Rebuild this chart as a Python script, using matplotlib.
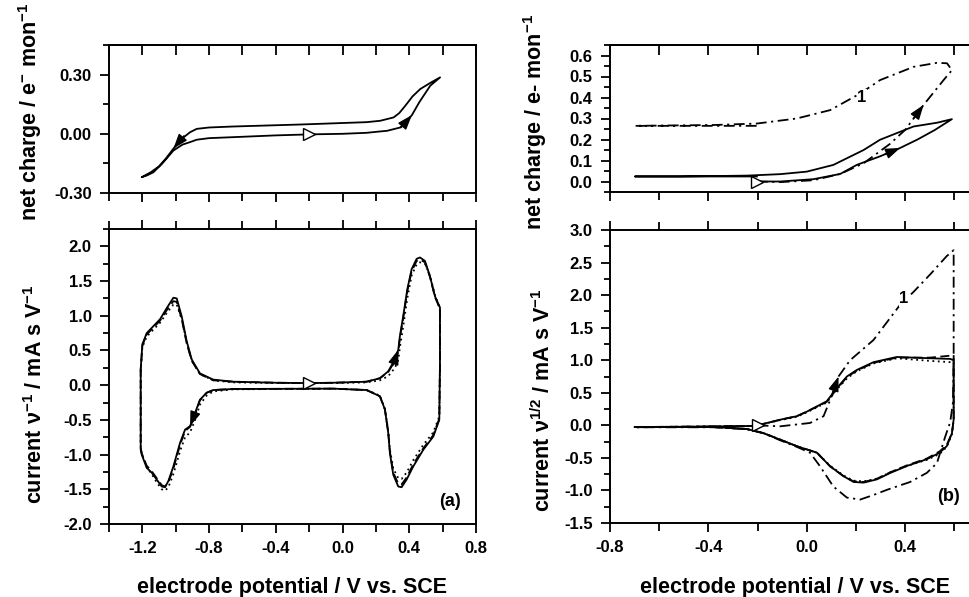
import numpy as np
import matplotlib
matplotlib.use("Agg")
import matplotlib.pyplot as plt
from matplotlib.ticker import MultipleLocator, FormatStrFormatter

plt.rcParams['font.family'] = ['Liberation Sans', 'DejaVu Sans']
plt.rcParams['font.weight'] = 'bold'
plt.rcParams['axes.unicode_minus'] = False
plt.rcParams['mathtext.fontset'] = 'custom'
plt.rcParams['mathtext.rm'] = 'Liberation Sans:bold'
plt.rcParams['mathtext.bf'] = 'Liberation Sans:bold'
plt.rcParams['mathtext.sf'] = 'Liberation Sans'
plt.rcParams['mathtext.default'] = 'rm'

# ---- (a) net charge, one loop starting at -0.2 V
Eqa = [-0.20, 0.00, 0.144, 0.226, 0.266, 0.346, 0.38, 0.416, 0.46, 0.526, 0.585,
       0.53, 0.466, 0.42, 0.376, 0.34, 0.306, 0.226, 0.144, -0.255, -0.655, -0.80,
       -0.874, -0.914, -0.944, -0.974, -1.014, -1.054, -1.10, -1.15, -1.204,
       -1.17, -1.134, -1.08, -1.014, -0.96, -0.914, -0.874, -0.80, -0.655, -0.40, -0.20]
Qa = [-0.003, 0.0, 0.005, 0.012, 0.015, 0.032, 0.06, 0.095, 0.16, 0.244, 0.286,
      0.26, 0.227, 0.19, 0.142, 0.105, 0.083, 0.066, 0.059, 0.047, 0.037, 0.032,
      0.025, 0.008, -0.012, -0.034, -0.075, -0.12, -0.165, -0.195, -0.22,
      -0.21, -0.195, -0.15, -0.085, -0.055, -0.042, -0.03, -0.022, -0.017, -0.008, -0.003]

# ---- (a) current, three cycles
Ea = [-0.20, -0.055, 0.144, 0.224, 0.274, 0.314, 0.334, 0.344, 0.364, 0.388, 0.414,
      0.444, 0.464, 0.494, 0.524, 0.554, 0.584, 0.584, 0.580, 0.544, 0.484, 0.424,
      0.384, 0.354, 0.334, 0.304, 0.284, 0.274, 0.254, 0.224, 0.144, -0.055, -0.655,
      -0.775, -0.815, -0.855, -0.884, -0.914, -0.944, -0.974, -1.014, -1.044, -1.064,
      -1.084, -1.114, -1.144, -1.174, -1.204, -1.210, -1.210, -1.200, -1.174, -1.134,
      -1.094, -1.054, -1.014, -0.994, -0.964, -0.934, -0.904, -0.855, -0.775, -0.655,
      -0.40, -0.20]
Ia_solid = [0.03, 0.035, 0.05, 0.10, 0.20, 0.37, 0.51, 0.71, 1.00, 1.38, 1.67, 1.82,
            1.84, 1.79, 1.57, 1.28, 1.12, 0.32, -0.50, -0.74, -0.93, -1.17, -1.36,
            -1.47, -1.46, -1.29, -0.98, -0.69, -0.35, -0.16, -0.07, -0.05, -0.055,
            -0.07, -0.11, -0.21, -0.40, -0.59, -0.64, -0.83, -1.17, -1.38, -1.47,
            -1.46, -1.36, -1.26, -1.19, -1.00, -0.93, 0.23, 0.59, 0.75, 0.85, 0.95,
            1.11, 1.26, 1.25, 0.99, 0.63, 0.37, 0.17, 0.08, 0.05, 0.035, 0.03]
Ia_dash = [0.03, 0.035, 0.05, 0.10, 0.19, 0.35, 0.48, 0.68, 0.97, 1.35, 1.64, 1.79,
           1.81, 1.77, 1.56, 1.27, 1.10, 0.30, -0.48, -0.72, -0.91, -1.14, -1.33,
           -1.43, -1.42, -1.26, -0.96, -0.68, -0.35, -0.16, -0.07, -0.05, -0.055,
           -0.07, -0.11, -0.22, -0.42, -0.60, -0.66, -0.86, -1.20, -1.40, -1.46,
           -1.44, -1.34, -1.24, -1.16, -0.98, -0.90, 0.22, 0.57, 0.73, 0.83, 0.93,
           1.08, 1.21, 1.20, 0.95, 0.60, 0.35, 0.16, 0.07, 0.05, 0.035, 0.03]
Ia_dot = [0.03, 0.03, 0.04, 0.07, 0.13, 0.25, 0.36, 0.55, 0.85, 1.25, 1.58, 1.74,
          1.77, 1.75, 1.58, 1.30, 1.10, 0.30, -0.45, -0.68, -0.86, -1.08, -1.26,
          -1.35, -1.34, -1.20, -0.93, -0.66, -0.34, -0.15, -0.07, -0.05, -0.06,
          -0.09, -0.15, -0.28, -0.50, -0.68, -0.75, -0.95, -1.28, -1.47, -1.52,
          -1.50, -1.40, -1.28, -1.18, -0.98, -0.90, 0.20, 0.55, 0.70, 0.80, 0.90,
          1.04, 1.16, 1.16, 0.95, 0.62, 0.36, 0.16, 0.07, 0.04, 0.03, 0.03]

# ---- (b) net charge
Eqb = [-0.203, -0.108, 0.027, 0.136, 0.203, 0.298, 0.38, 0.45, 0.52, 0.59, 0.53,
       0.434, 0.298, 0.231, 0.108, 0.0, -0.108, -0.244, -0.515, -0.698, -0.45, -0.203]
Qb = [0.0, 0.0, 0.011, 0.036, 0.079, 0.12, 0.16, 0.20, 0.245, 0.297, 0.28,
      0.262, 0.199, 0.15, 0.079, 0.047, 0.035, 0.028, 0.024, 0.024, 0.024, 0.024]
Eqb1 = [-0.203, -0.108, 0.027, 0.136, 0.231, 0.339, 0.40, 0.475, 0.556, 0.59, 0.57,
        0.529, 0.434, 0.298, 0.217, 0.095, -0.041, -0.203, -0.38, -0.698, -0.45, -0.203]
Qb1 = [0.0, -0.003, 0.006, 0.036, 0.087, 0.18, 0.246, 0.365, 0.483, 0.53, 0.563,
       0.565, 0.546, 0.483, 0.419, 0.34, 0.30, 0.276, 0.269, 0.265, 0.265, 0.265]

# ---- (b) current
Eb = [-0.20, -0.108, -0.041, 0.0, 0.081, 0.122, 0.163, 0.203, 0.271, 0.366, 0.502,
      0.583, 0.597, 0.597, 0.597, 0.59, 0.569, 0.54, 0.488, 0.41, 0.34, 0.285, 0.231,
      0.19, 0.149, 0.095, 0.041, 0.0, -0.041, -0.108, -0.176, -0.244, -0.38, -0.70,
      -0.45, -0.20]
Ib_solid = [0.0, 0.087, 0.14, 0.21, 0.37, 0.57, 0.75, 0.85, 0.97, 1.05, 1.03, 1.02,
            1.0, 0.6, 0.09, -0.12, -0.32, -0.42, -0.52, -0.62, -0.73, -0.83, -0.88,
            -0.87, -0.78, -0.63, -0.42, -0.37, -0.32, -0.22, -0.12, -0.056, -0.026,
            -0.026, -0.02, -0.01]
Ib_dash = [0.0, 0.085, 0.14, 0.21, 0.36, 0.56, 0.74, 0.84, 0.96, 1.04, 1.04, 1.07,
           1.08, 0.6, 0.09, -0.12, -0.30, -0.40, -0.51, -0.61, -0.72, -0.82, -0.87,
           -0.86, -0.78, -0.63, -0.42, -0.37, -0.32, -0.22, -0.12, -0.056, -0.026,
           -0.026, -0.02, -0.01]
Ib_dot = [0.0, 0.08, 0.13, 0.2, 0.35, 0.55, 0.72, 0.83, 0.95, 1.03, 0.99, 0.97,
          0.96, 0.6, 0.09, -0.14, -0.33, -0.44, -0.53, -0.62, -0.72, -0.82, -0.86,
          -0.85, -0.77, -0.62, -0.42, -0.37, -0.32, -0.22, -0.12, -0.056, -0.026,
          -0.026, -0.02, -0.01]
Eb1 = [-0.20, -0.108, 0.013, 0.068, 0.095, 0.129, 0.176, 0.271, 0.379, 0.434, 0.502,
       0.569, 0.597, 0.597, 0.594, 0.583, 0.563, 0.529, 0.488, 0.42, 0.326, 0.271,
       0.217, 0.163, 0.108, 0.054, 0.013, -0.041, -0.108, -0.176, -0.244, -0.38,
       -0.70, -0.45, -0.20]
Ib1 = [0.0, -0.015, 0.036, 0.14, 0.39, 0.75, 1.0, 1.31, 1.85, 2.05, 2.32, 2.6, 2.69,
       1.0, 0.35, 0.05, -0.17, -0.58, -0.73, -0.87, -0.99, -1.07, -1.14, -1.11,
       -0.94, -0.63, -0.42, -0.33, -0.23, -0.12, -0.06, -0.03, -0.03, -0.02, -0.01]

W, H = 969, 597
fig = plt.figure(figsize=(W / 100, H / 100), dpi=100)


def box(l, t, r, b):
    return [l / W, 1 - b / H, (r - l) / W, (b - t) / H]


def style(ax, xlim, ylim, ymaj, ymin, yfmt, top_panel):
    ax.set_xlim(xlim)
    ax.set_ylim(ylim)
    ax.xaxis.set_major_locator(MultipleLocator(0.4))
    ax.xaxis.set_minor_locator(MultipleLocator(0.2))
    ax.yaxis.set_major_locator(MultipleLocator(ymaj))
    ax.yaxis.set_minor_locator(MultipleLocator(ymin))
    ax.xaxis.set_major_formatter(FormatStrFormatter('%.1f'))
    ax.yaxis.set_major_formatter(FormatStrFormatter(yfmt))
    for s in ax.spines.values():
        s.set_linewidth(1.4)
    ax.tick_params(which='both', direction='out', width=1.3, labelsize=12, pad=6)
    ax.tick_params(which='major', length=6.5)
    ax.tick_params(axis='y', which='minor', length=4)
    ax.tick_params(axis='x', which='minor', length=6)
    if top_panel:
        ax.tick_params(axis='x', labelbottom=False)
        sec = ax.secondary_xaxis('top')
        sec.xaxis.set_major_locator(MultipleLocator(0.4))
        sec.xaxis.set_minor_locator(MultipleLocator(0.2))
        sec.tick_params(which='both', direction='in', width=1.3, length=7, labeltop=False)
        sec.spines['top'].set_linewidth(1.4)
    else:
        ax.tick_params(axis='x', which='both', top=True)


def arrow(ax, E, Y, i, size=10):
    # filled arrow head sitting on the curve at point i, pointing along the sweep
    p0 = ax.transData.transform((E[i - 1], Y[i - 1]))
    p1 = ax.transData.transform((E[i], Y[i]))
    d = (p1 - p0) / np.hypot(*(p1 - p0))
    ax.annotate('', xy=(E[i], Y[i]), xytext=(-d[0] * 12, -d[1] * 12),
                textcoords='offset points', zorder=6,
                arrowprops=dict(arrowstyle='-|>,head_length=0.9,head_width=0.32',
                                mutation_scale=size, fc='black', ec='black', lw=1.0,
                                shrinkA=0, shrinkB=0))


def start_mark(ax, E, Y):
    ax.plot(E[0], Y[0], marker='>', ms=9, mfc='white', mec='black', mew=1.0, zorder=6)


lw = 1.3
dashdot = (0, (6, 2.5, 1.2, 2.5))

# top left
ax1 = fig.add_axes(box(109, 45, 476, 193))
style(ax1, (-1.4, 0.8), (-0.3, 0.45), 0.3, 0.15, '%.2f', True)
ax1.plot(Eqa, Qa, color='black', lw=lw)
arrow(ax1, Eqa, Qa, 7)
arrow(ax1, Eqa, Qa, 26)
start_mark(ax1, Eqa, Qa)

# bottom left
ax2 = fig.add_axes(box(109, 229, 476, 524))
style(ax2, (-1.4, 0.8), (-2.0, 2.25), 0.5, 0.25, '%.1f', False)
ax2.plot(Ea, Ia_dot, color='black', lw=lw, ls=(0, (1, 2)))
ax2.plot(Ea, Ia_dash, color='black', lw=lw, ls=(0, (5, 2.5)))
ax2.plot(Ea, Ia_solid, color='black', lw=lw)
arrow(ax2, Ea, Ia_solid, 6)
arrow(ax2, Ea, Ia_solid, 37)
start_mark(ax2, Ea, Ia_solid)
ax2.text(0.93, 0.075, '(a)', transform=ax2.transAxes, fontsize=13,
         ha='center', va='center')

# top right
ax3 = fig.add_axes(box(610, 45, 979, 192))
style(ax3, (-0.8, 0.7), (-0.05, 0.65), 0.1, 0.05, '%.1f', True)
ax3.plot(Eqb1, Qb1, color='black', lw=lw, ls=dashdot)
ax3.plot(Eqb, Qb, color='black', lw=lw)
arrow(ax3, Eqb1, Qb1, 7)
arrow(ax3, Eqb, Qb, 6)
start_mark(ax3, Eqb, Qb)
ax3.text(0.224, 0.40, '1', fontsize=12, ha='center', va='center',
         bbox=dict(fc='white', ec='none', pad=0.5), zorder=5)

# bottom right
ax4 = fig.add_axes(box(610, 230, 979, 523))
style(ax4, (-0.8, 0.7), (-1.5, 3.0), 0.5, 0.25, '%.1f', False)
ax4.plot(Eb1, Ib1, color='black', lw=lw, ls=dashdot)
ax4.plot(Eb, Ib_dot, color='black', lw=lw, ls=(0, (1, 2)))
ax4.plot(Eb, Ib_dash, color='black', lw=lw, ls=(0, (5, 2.5)))
ax4.plot(Eb, Ib_solid, color='black', lw=lw)
arrow(ax4, Eb1, Ib1, 5)
start_mark(ax4, Eb, Ib_solid)
ax4.text(0.395, 1.95, '1', fontsize=12, ha='center', va='center',
         bbox=dict(fc='white', ec='none', pad=0.5), zorder=5)
ax4.text(0.916, 0.089, '(b)', transform=ax4.transAxes, fontsize=13,
         ha='center', va='center')

# axis titles
fs = 15.5
fig.text(30 / W, 1 - 112 / H, 'net charge / e$^{-}$ mon$^{-1}$', rotation=90,
         ha='center', va='center', fontsize=fs)
fig.text(36 / W, 1 - 394 / H, r'current $\mathsf{\nu}^{-1}$ / mA s V$^{-1}$', rotation=90,
         ha='center', va='center', fontsize=fs)
fig.text(535 / W, 1 - 122 / H, 'net charge / e- mon$^{-1}$', rotation=90,
         ha='center', va='center', fontsize=fs)
fig.text(543 / W, 1 - 400 / H, r'current $\mathsf{\nu}^{1/2}$ / mA s V$^{-1}$', rotation=90,
         ha='center', va='center', fontsize=fs)
fig.text(292 / W, 1 - 587 / H, 'electrode potential / V vs. SCE',
         ha='center', va='center', fontsize=fs)
fig.text(795 / W, 1 - 587 / H, 'electrode potential / V vs. SCE',
         ha='center', va='center', fontsize=fs)

fig.savefig('out.png', dpi=100)
